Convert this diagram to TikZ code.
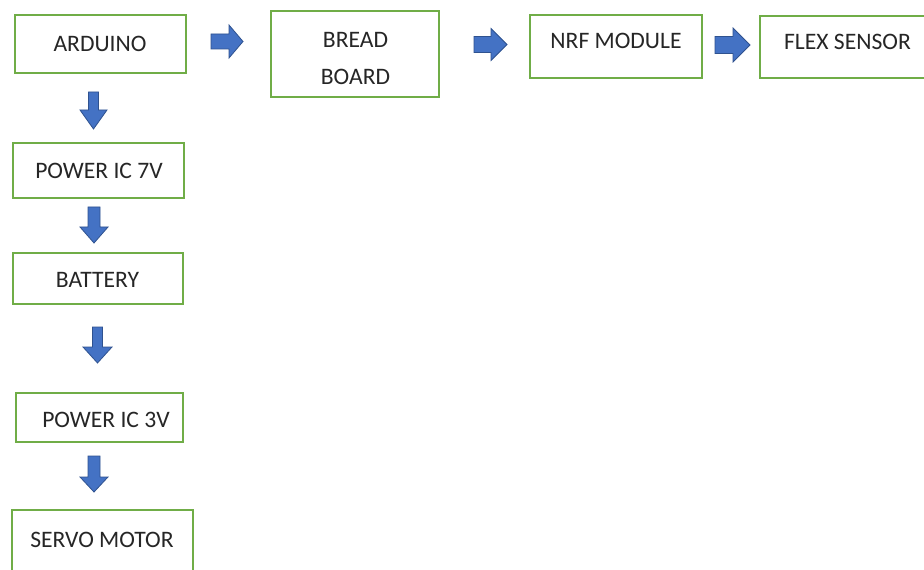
\documentclass[tikz,border=0pt]{standalone}
\usepackage{fontspec}
\setmainfont{Carlito}
\usetikzlibrary{fit}
\definecolor{boxgreen}{HTML}{70AD47}
\definecolor{arrowblue}{HTML}{4472C4}
\definecolor{arrowedge}{HTML}{2F528F}
\definecolor{txtgray}{HTML}{262626}
\tikzset{
  blockbox/.style={draw=boxgreen, line width=1.6pt, inner sep=0pt, rectangle},
  lbl/.style={inner sep=0pt, text=txtgray, font=\fontsize{17.7pt}{27.75pt}\selectfont, align=center},
  barrow/.style={fill=arrowblue, draw=arrowedge, line width=0.6pt, line join=miter}
}
% right block arrow: x-left, head-start x, tip x, y-centre, shaft half, head half
\newcommand\blockright[6]{%
  \filldraw[barrow] (#1,#4-#5) -- (#2,#4-#5) -- (#2,#4-#6) -- (#3,#4) -- (#2,#4+#6) -- (#2,#4+#5) -- (#1,#4+#5) -- cycle;}
% down block arrow: x-centre, shaft half, head half, y-top, head-start y, tip y
\newcommand\blockdown[6]{%
  \filldraw[barrow] (#1-#2,#4) -- (#1+#2,#4) -- (#1+#2,#5) -- (#1+#3,#5) -- (#1,#6) -- (#1-#3,#5) -- (#1-#2,#5) -- cycle;}
\begin{document}
\begin{tikzpicture}[x=0.75pt,y=-0.75pt]
\useasboundingbox (0,0) rectangle (924,570);
\fill[white] (0,0) rectangle (924,570);

% boxes
\node[blockbox, fit={(15,15) (186,73)}] (arduino) {};
\node[blockbox, fit={(271,11) (439,97)}] (bread) {};
\node[blockbox, fit={(530,15) (702,78)}] (nrf) {};
\node[blockbox, fit={(760,16) (945,78)}] (flex) {};
\node[blockbox, fit={(13,143) (184,198)}] (pic7) {};
\node[blockbox, fit={(13,253) (183,304)}] (battery) {};
\node[blockbox, fit={(16,393) (183,442)}] (pic3) {};
\node[blockbox, fit={(12,510) (193,585)}] (servo) {};

% labels
\node[lbl] (t-arduino) at (100,44) {ARDUINO};
\node[lbl, anchor=center] (t-bread) at (355.5,59) {BREAD\\BOARD};
\node[lbl] (t-nrf) at (616,40.5) {NRF MODULE};
\node[lbl] (t-flex) at (847.5,42) {FLEX SENSOR};
\node[lbl] (t-pic7) at (99,171) {POWER IC 7V};
\node[lbl] (t-battery) at (97.5,280) {BATTERY};
\node[lbl] (t-pic3) at (106,419.5) {POWER IC 3V};
\node[lbl] (t-servo) at (102,540) {SERVO MOTOR};

% block arrows
\blockright{211}{229}{243}{41.5}{7.5}{16.5}
\blockright{474}{491}{507}{44.5}{8}{16}
\blockright{715}{733}{750}{45}{8.5}{17}
\blockdown{93.5}{5}{13.5}{92}{110}{129}
\blockdown{94}{6}{14}{207}{227}{243}
\blockdown{97.5}{5}{14.5}{327}{347}{363}
\blockdown{94}{6}{14}{456}{477}{492}
\end{tikzpicture}
\end{document}
